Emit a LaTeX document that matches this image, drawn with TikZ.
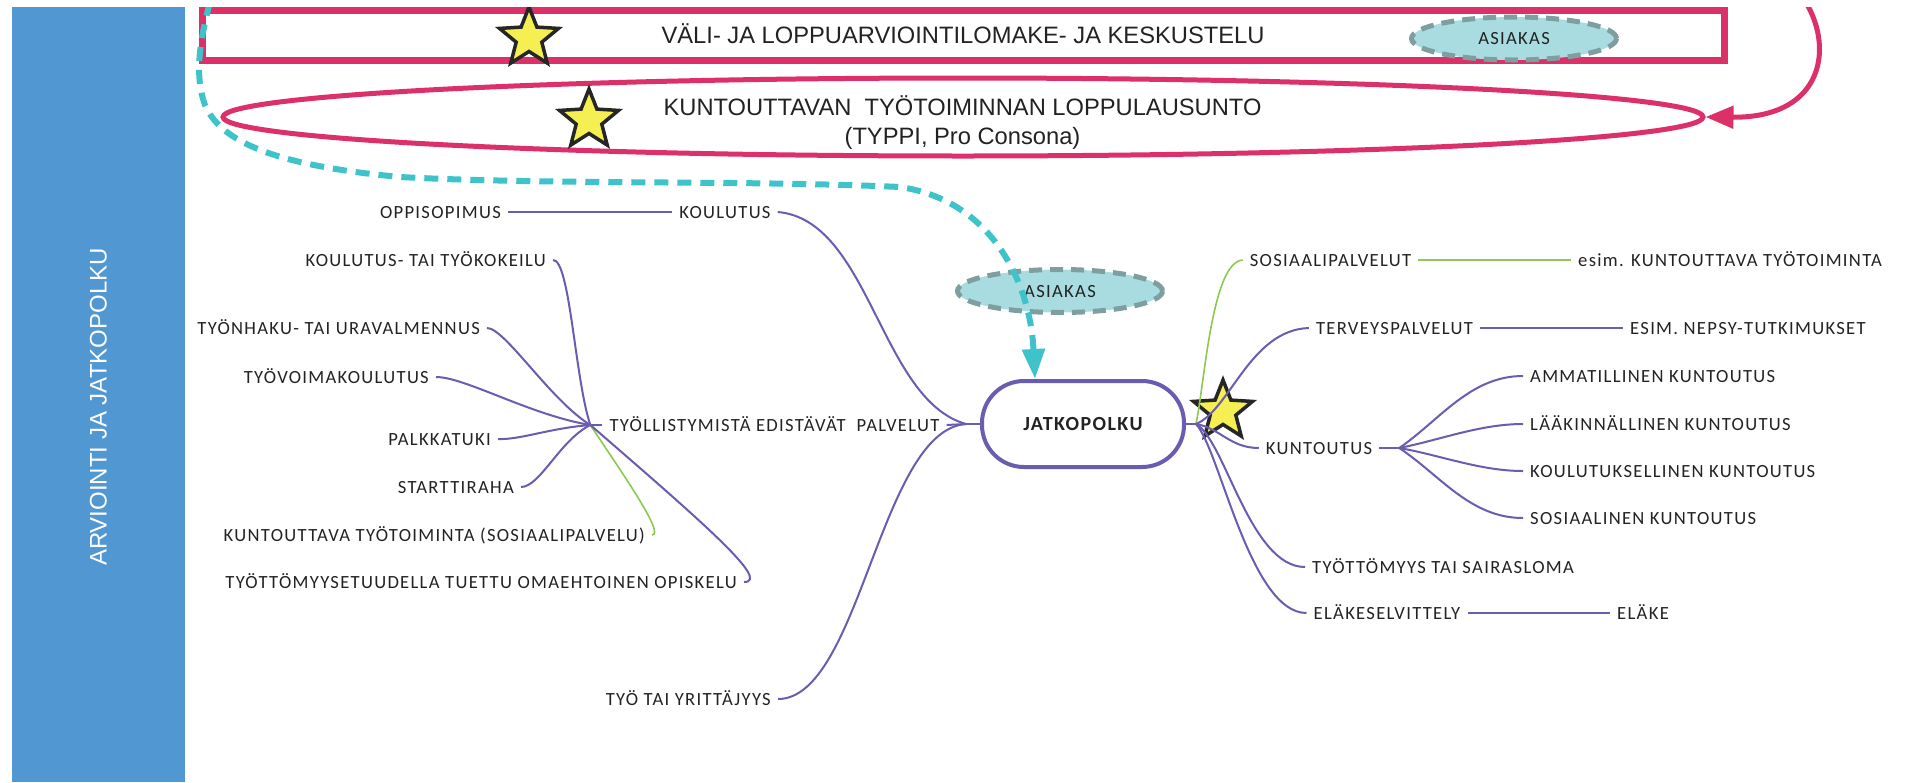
\documentclass[tikz,border=0pt]{standalone}
\usepackage{fontspec}
\setmainfont{Liberation Sans}
\newfontfamily\lblfam[LetterSpace=7]{Carlito}
\usetikzlibrary{shapes.geometric,arrows.meta}
\definecolor{barblue}{HTML}{5198D3}
\definecolor{pinkred}{HTML}{DC3068}
\definecolor{cyanl}{HTML}{3EC3CB}
\definecolor{asfill}{HTML}{A9DCE1}
\definecolor{asborder}{HTML}{7F9EA0}
\definecolor{purp}{HTML}{6A5CB0}
\definecolor{grn}{HTML}{8DC850}
\definecolor{staryel}{HTML}{F5EF52}
\definecolor{txt}{HTML}{222222}
\begin{document}
\begin{tikzpicture}[x=1pt,y=-1pt,
  lbl/.style={font=\lblfam\fontsize{18.6}{22}\selectfont, text=txt, inner xsep=7pt, inner ysep=0pt, text height=12pt, text depth=0pt, anchor=west},
  big/.style={font=\fontsize{23.7}{29}\selectfont, text=txt, inner sep=0pt, text height=17pt, text depth=0pt},
  conn/.style={draw=purp, line width=2pt},
  gconn/.style={draw=grn, line width=1.6pt},
  starn/.style={star, star points=5, star point ratio=2.3, minimum size=62pt, inner sep=0pt, fill=staryel, draw=black!85, line width=3.5pt, line join=miter},
  asiakas/.style={ellipse, fill=asfill, draw=asborder, line width=5pt, dash pattern=on 13pt off 8pt, minimum width=205pt, minimum height=43pt, inner sep=0pt, font=\lblfam\fontsize{18.6}{22}\selectfont, text=txt, text height=12pt, text depth=0pt},
]
\useasboundingbox (0,0) rectangle (1905,782);
\clip (0,7) rectangle (1905,782);
% side bar
\fill[barblue] (12,7) rectangle (185,782);
\node[rotate=90, text=white, font=\fontsize{24}{28}\selectfont, inner sep=0pt, text height=17pt, text depth=0pt] (bar) at (98,407) {ARVIOINTI JA JATKOPOLKU};

% top box and ellipse
\node[big, draw=pinkred, line width=7pt, minimum width=1522pt, minimum height=49.5pt] (vali) at (963,35.25) {VÄLI- JA LOPPUARVIOINTILOMAKE- JA KESKUSTELU};
\node[ellipse, draw=pinkred, line width=5pt, minimum width=1480pt, minimum height=78pt, inner sep=0pt] (ell) at (963,117) {};
\node[big] (lop1) at (962.5,106.5) {KUNTOUTTAVAN\ \ TYÖTOIMINNAN LOPPULAUSUNTO};
\node[big] (lop2) at (962.5,136) {(TYPPI, Pro Consona)};
\node[starn] (s1) at (529,38) {};
\node[starn] (s2) at (589,120) {};
\node[asiakas] (as1) at (1514,38.5) {ASIAKAS};
\coordinate (pstart) at (1803,-2);
\draw[pinkred, line width=5pt, -{Triangle[length=28pt,width=22pt]}] (pstart) .. controls (1835,45) and (1825,118) .. (ell.east);

% central node
\node[draw=purp, line width=4pt, fill=white, rounded corners=42pt, minimum width=202pt, minimum height=86pt, font=\lblfam\bfseries\fontsize{20}{24}\selectfont, text=txt] (jat) at (1083,424) {JATKOPOLKU};
\node[asiakas] (as2) at (1060,291) {ASIAKAS};
\coordinate (dstart) at (210,2);
\draw[cyanl, line width=6pt, dash pattern=on 14pt off 9pt, -{Triangle[length=30pt,width=22pt]}] (dstart) .. controls (200,40) and (194,75) .. (205,105) .. controls (220,140) and (270,165) .. (400,177) .. controls (550,185) and (750,180) .. (900,187) .. controls (990,200) and (1030,280) .. ([xshift=-48pt]jat.north);

\node[starn] (s3) at (1223,411) {};

% left labels
\node[lbl, anchor=east] (opp) at (508,212) {OPPISOPIMUS};
\node[lbl, anchor=center] (kou) at (725,212) {KOULUTUS};
\node[lbl, anchor=center] (tep) at (774.5,425) {TYÖLLISTYMISTÄ EDISTÄVÄT\ \ PALVELUT};
\node[lbl, anchor=east] (koe) at (553,260) {KOULUTUS- TAI TYÖKOKEILU};
\node[lbl, anchor=east] (hak) at (487,328) {TYÖNHAKU- TAI URAVALMENNUS};
\node[lbl, anchor=east] (voi) at (436,377) {TYÖVOIMAKOULUTUS};
\node[lbl, anchor=east] (pal) at (498,439) {PALKKATUKI};
\node[lbl, anchor=east] (sta) at (521,487) {STARTTIRAHA};
\node[lbl, anchor=east] (ktt) at (652,535) {KUNTOUTTAVA TYÖTOIMINTA (SOSIAALIPALVELU)};
\node[lbl, anchor=east] (opi) at (744,582) {TYÖTTÖMYYSETUUDELLA TUETTU OMAEHTOINEN OPISKELU};
\node[lbl, anchor=east] (yri) at (778,699) {TYÖ TAI YRITTÄJYYS};

% right labels
\node[lbl, anchor=center] (sos) at (1330.5,260) {SOSIAALIPALVELUT};
\node[lbl] (esi) at (1571,260) {esim. KUNTOUTTAVA TYÖTOIMINTA};
\node[lbl, anchor=center] (ter) at (1394.5,328) {TERVEYSPALVELUT};
\node[lbl] (nep) at (1623,328) {ESIM. NEPSY-TUTKIMUKSET};
\node[lbl, anchor=center] (kto) at (1319,448) {KUNTOUTUS};
\node[lbl] (amm) at (1523,376) {AMMATILLINEN KUNTOUTUS};
\node[lbl] (laa) at (1523,424) {LÄÄKINNÄLLINEN KUNTOUTUS};
\node[lbl] (kk) at (1523,471) {KOULUTUKSELLINEN KUNTOUTUS};
\node[lbl] (sk) at (1523,518) {SOSIAALINEN KUNTOUTUS};
\node[lbl] (tts) at (1305,567) {TYÖTTÖMYYS TAI SAIRASLOMA};
\node[lbl, anchor=center] (ela) at (1387,613) {ELÄKESELVITTELY};
\node[lbl] (elk) at (1610,613) {ELÄKE};

% hubs
\coordinate (hubL) at ([xshift=-14pt]jat.west);
\coordinate (hubR) at ([xshift=10pt]jat.east);
\coordinate (hubT) at ([xshift=-12pt]tep.west);
\coordinate (hubK) at ([xshift=20pt]kto.east);

% left connectors
\draw[conn] (opp.east) -- (kou.west);
\draw[conn] (kou.east) .. controls (870,220) and (880,400) .. (hubL);
\draw[conn] (tep.east) -- (hubL);
\draw[conn] (yri.east) .. controls (860,699) and (880,430) .. (hubL);
\draw[conn] (jat.west) -- (hubL);
\draw[conn] (koe.east) .. controls (570,259) and (575,380) .. (hubT);
\draw[conn] (hak.east) .. controls (505,328) and (550,400) .. (hubT);
\draw[conn] (voi.east) .. controls (465,377) and (530,415) .. (hubT);
\draw[conn] (pal.east) .. controls (520,440) and (550,428) .. (hubT);
\draw[conn] (sta.east) .. controls (540,487) and (560,440) .. (hubT);
\draw[gconn] (ktt.east) .. controls (666,535) and (620,470) .. (hubT);
\draw[conn] (opi.east) .. controls (772,582) and (700,520) .. (hubT);
\draw[conn] (tep.west) -- (hubT);

% right connectors
\draw[gconn] (hubR) .. controls (1205,380) and (1212,262) .. (sos.west);
\draw[gconn] (sos.east) -- (esi.west);
\draw[conn] (hubR) .. controls (1230,410) and (1250,330) .. (ter.west);
\draw[conn] (ter.east) -- (nep.west);
\draw[conn] (hubR) .. controls (1220,428) and (1230,448) .. (kto.west);
\draw[conn] (kto.east) -- (hubK);
\draw[conn] (hubK) .. controls (1440,420) and (1470,376) .. (amm.west);
\draw[conn] (hubK) .. controls (1440,440) and (1480,424) .. (laa.west);
\draw[conn] (hubK) .. controls (1440,455) and (1480,471) .. (kk.west);
\draw[conn] (hubK) .. controls (1440,475) and (1470,518) .. (sk.west);
\draw[conn] (hubR) .. controls (1225,440) and (1250,567) .. (tts.west);
\draw[conn] (hubR) .. controls (1220,450) and (1250,613) .. (ela.west);
\draw[conn] (ela.east) -- (elk.west);
\draw[conn] (jat.east) -- (hubR);
\end{tikzpicture}
\end{document}
